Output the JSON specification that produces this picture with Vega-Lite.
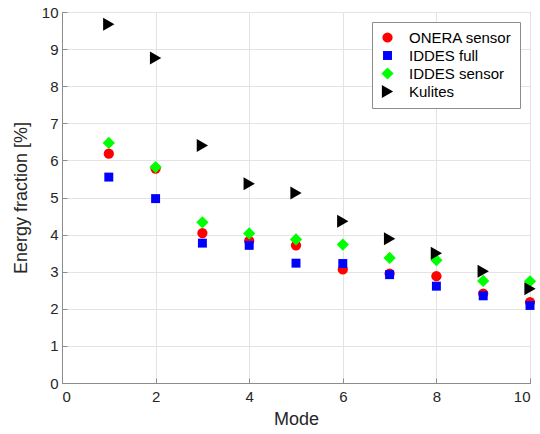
{
  "$schema": "https://vega.github.io/schema/vega-lite/v6.json",
  "width": 468,
  "height": 371,
  "autosize": {"type": "none"},
  "padding": {"left": 62, "top": 12, "right": 10, "bottom": 51},
  "background": "white",
  "config": {
    "font": "Liberation Sans",
    "view": {"stroke": "#8c8c8c", "strokeWidth": 1},
    "axis": {
      "domainColor": "#8c8c8c",
      "tickColor": "#8c8c8c",
      "gridColor": "#e3e3e3",
      "labelColor": "#262626",
      "titleColor": "#262626",
      "labelFontSize": 15,
      "titleFontSize": 18,
      "titleFontWeight": "normal",
      "tickSize": -5
    }
  },
  "data": {
    "values": [
      {"mode": 1, "value": 6.18, "series": "ONERA sensor"},
      {"mode": 2, "value": 5.78, "series": "ONERA sensor"},
      {"mode": 3, "value": 4.04, "series": "ONERA sensor"},
      {"mode": 4, "value": 3.83, "series": "ONERA sensor"},
      {"mode": 5, "value": 3.71, "series": "ONERA sensor"},
      {"mode": 6, "value": 3.06, "series": "ONERA sensor"},
      {"mode": 7, "value": 2.95, "series": "ONERA sensor"},
      {"mode": 8, "value": 2.88, "series": "ONERA sensor"},
      {"mode": 9, "value": 2.41, "series": "ONERA sensor"},
      {"mode": 10, "value": 2.18, "series": "ONERA sensor"},
      {"mode": 1, "value": 5.55, "series": "IDDES full"},
      {"mode": 2, "value": 4.97, "series": "IDDES full"},
      {"mode": 3, "value": 3.77, "series": "IDDES full"},
      {"mode": 4, "value": 3.71, "series": "IDDES full"},
      {"mode": 5, "value": 3.23, "series": "IDDES full"},
      {"mode": 6, "value": 3.22, "series": "IDDES full"},
      {"mode": 7, "value": 2.92, "series": "IDDES full"},
      {"mode": 8, "value": 2.61, "series": "IDDES full"},
      {"mode": 9, "value": 2.35, "series": "IDDES full"},
      {"mode": 10, "value": 2.09, "series": "IDDES full"},
      {"mode": 1, "value": 6.47, "series": "IDDES sensor"},
      {"mode": 2, "value": 5.82, "series": "IDDES sensor"},
      {"mode": 3, "value": 4.33, "series": "IDDES sensor"},
      {"mode": 4, "value": 4.03, "series": "IDDES sensor"},
      {"mode": 5, "value": 3.87, "series": "IDDES sensor"},
      {"mode": 6, "value": 3.73, "series": "IDDES sensor"},
      {"mode": 7, "value": 3.37, "series": "IDDES sensor"},
      {"mode": 8, "value": 3.31, "series": "IDDES sensor"},
      {"mode": 9, "value": 2.75, "series": "IDDES sensor"},
      {"mode": 10, "value": 2.74, "series": "IDDES sensor"},
      {"mode": 1, "value": 9.67, "series": "Kulites"},
      {"mode": 2, "value": 8.76, "series": "Kulites"},
      {"mode": 3, "value": 6.4, "series": "Kulites"},
      {"mode": 4, "value": 5.37, "series": "Kulites"},
      {"mode": 5, "value": 5.12, "series": "Kulites"},
      {"mode": 6, "value": 4.36, "series": "Kulites"},
      {"mode": 7, "value": 3.89, "series": "Kulites"},
      {"mode": 8, "value": 3.5, "series": "Kulites"},
      {"mode": 9, "value": 3.01, "series": "Kulites"},
      {"mode": 10, "value": 2.54, "series": "Kulites"}
    ]
  },
  "mark": {"type": "point", "filled": true, "opacity": 1, "clip": false},
  "encoding": {
    "x": {
      "field": "mode", "type": "quantitative",
      "scale": {"domain": [0, 10], "nice": false},
      "axis": {"values": [0, 2, 4, 6, 8, 10], "title": "Mode", "titlePadding": 6, "labelPadding": 11}
    },
    "y": {
      "field": "value", "type": "quantitative",
      "scale": {"domain": [0, 10], "nice": false},
      "axis": {"values": [0,1,2,3,4,5,6,7,8,9,10], "title": "Energy fraction [%]", "titlePadding": 11, "labelPadding": 9}
    },
    "color": {
      "field": "series", "type": "nominal",
      "scale": {"domain": ["ONERA sensor", "IDDES full", "IDDES sensor", "Kulites"], "range": ["#ff0000", "#0000ff", "#00ff00", "#000000"]},
      "legend": {
        "title": null,
        "orient": "top-right",
        "offset": 10,
        "strokeColor": "#8c8c8c",
        "fillColor": "white",
        "padding": 8,
        "labelFontSize": 15,
        "labelColor": "#000000",
        "rowPadding": 2,
        "labelOffset": 14
      }
    },
    "shape": {
      "field": "series", "type": "nominal",
      "scale": {"domain": ["ONERA sensor", "IDDES full", "IDDES sensor", "Kulites"], "range": ["circle", "square", "diamond", "triangle-right"]}
    },
    "size": {
      "field": "series", "type": "nominal",
      "scale": {"type": "ordinal", "domain": ["ONERA sensor", "IDDES full", "IDDES sensor", "Kulites"], "range": [105, 80, 150, 170]},
      "legend": null
    }
  }
}
